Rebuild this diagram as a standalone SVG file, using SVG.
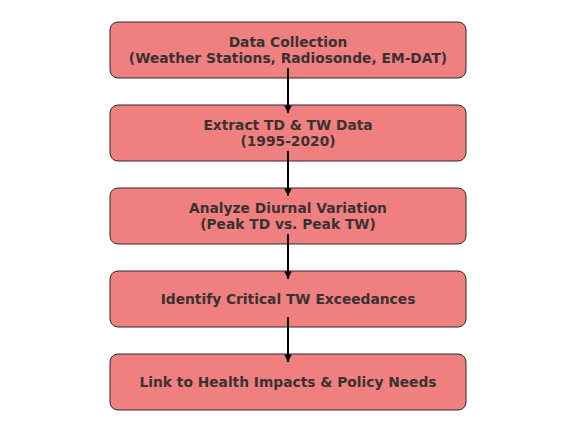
<svg xmlns="http://www.w3.org/2000/svg" width="576" height="433" viewBox="0 0 576 433">
  <style>
    .box { fill: #f08080; stroke: #2b2b2b; stroke-width: 1; }
    .lbl { font-family: "DejaVu Sans", sans-serif; font-weight: bold; font-size: 13.8px; fill: #3a3232; text-anchor: middle; }
    .edge { stroke: #000; stroke-width: 2; fill: none; }
  </style>
  <defs>
    <marker id="head" viewBox="0 0 10 10" refX="10" refY="5" markerWidth="3.8" markerHeight="3.8" orient="auto" markerUnits="strokeWidth">
      <path d="M0,0 L10,5 L0,10 z" fill="#000"/>
    </marker>
  </defs>
  <rect width="576" height="433" fill="#fff"/>
  <g id="n1"><rect class="box" x="110" y="22" width="356" height="56" rx="8"/>
    <text class="lbl" x="288" y="47">Data Collection</text>
    <text class="lbl" x="288" y="63">(Weather Stations, Radiosonde, EM-DAT)</text></g>
  <g id="n2"><rect class="box" x="110" y="105" width="356" height="56" rx="8"/>
    <text class="lbl" x="288" y="130">Extract TD &amp; TW Data</text>
    <text class="lbl" x="288" y="146">(1995-2020)</text></g>
  <g id="n3"><rect class="box" x="110" y="188" width="356" height="56" rx="8"/>
    <text class="lbl" x="288" y="213">Analyze Diurnal Variation</text>
    <text class="lbl" x="288" y="229">(Peak TD vs. Peak TW)</text></g>
  <g id="n4"><rect class="box" x="110" y="271" width="356" height="56" rx="8"/>
    <text class="lbl" x="288" y="304">Identify Critical TW Exceedances</text></g>
  <g id="n5"><rect class="box" x="110" y="354" width="356" height="56" rx="8"/>
    <text class="lbl" x="288" y="387">Link to Health Impacts &amp; Policy Needs</text></g>
  <g id="edges">
    <line class="edge" x1="288" y1="68" x2="288" y2="113" marker-end="url(#head)"/>
    <line class="edge" x1="288" y1="151" x2="288" y2="196" marker-end="url(#head)"/>
    <line class="edge" x1="288" y1="234" x2="288" y2="279" marker-end="url(#head)"/>
    <line class="edge" x1="288" y1="317" x2="288" y2="362" marker-end="url(#head)"/>
  </g>
</svg>
